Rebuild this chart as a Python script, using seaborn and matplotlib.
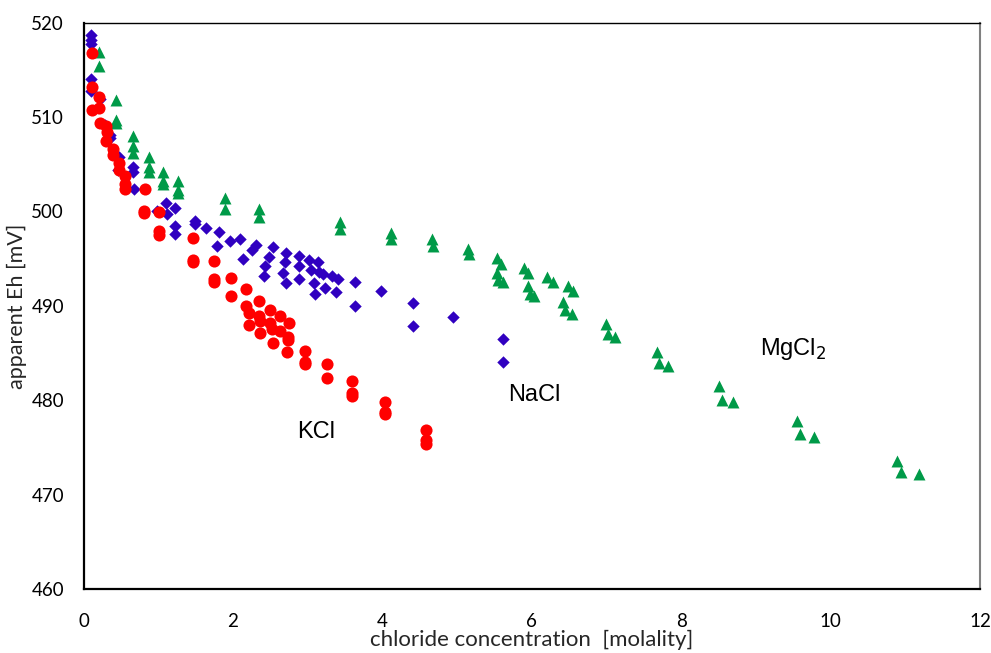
import numpy as np
import pandas as pd
import matplotlib
matplotlib.use("Agg")
import matplotlib.pyplot as plt
from matplotlib.ticker import MultipleLocator
import seaborn as sns

# Chloride molality and apparent Eh [mV] per salt
kcl_m = [0.11, 0.11, 0.11, 0.21, 0.21, 0.22, 0.30, 0.31, 0.30, 0.39, 0.39, 0.48, 0.48,
         0.56, 0.56, 0.56, 0.82, 0.81, 0.81, 1.01, 1.01, 1.01, 1.47, 1.47, 1.47, 1.75,
         1.75, 1.75, 1.98, 1.98, 2.17, 2.17, 2.21, 2.21, 2.35, 2.35, 2.36, 2.36, 2.50,
         2.50, 2.52, 2.53, 2.63, 2.63, 2.75, 2.74, 2.74, 2.73, 2.97, 2.97, 2.97, 3.26,
         3.26, 3.60, 3.60, 3.60, 4.04, 4.04, 4.04, 4.59, 4.59, 4.59]
kcl_eh = [516.8, 513.2, 510.75, 512.1, 511.0, 509.4, 509.1, 508.4, 507.5, 506.6, 506.0,
          505.1, 504.4, 503.8, 502.9, 502.4, 502.4, 500.1, 499.8, 499.9, 497.9, 497.5,
          497.2, 494.9, 494.6, 494.8, 492.8, 492.5, 493.0, 491.05, 491.8, 490.0, 489.2,
          488.0, 490.5, 488.9, 488.4, 487.1, 489.6, 488.2, 487.5, 486.1, 488.9, 487.3,
          488.2, 486.7, 486.4, 485.1, 485.2, 484.0, 483.8, 483.8, 482.4, 482.0, 480.8,
          480.5, 479.85, 478.8, 478.5, 476.85, 475.8, 475.4]

nacl_m = [0.10, 0.10, 0.10, 0.10, 0.10, 0.22, 0.29, 0.35, 0.36, 0.47, 0.46, 0.66, 0.66,
          0.67, 1.10, 1.22, 0.99, 1.12, 1.22, 1.22, 1.49, 1.49, 1.64, 1.81, 1.79, 1.96,
          2.09, 2.14, 2.25, 2.31, 2.43, 2.41, 2.48, 2.53, 2.71, 2.70, 2.67, 2.71, 2.88,
          2.89, 2.89, 3.02, 3.14, 3.05, 3.15, 3.20, 3.08, 3.10, 3.23, 3.33, 3.40, 3.38,
          3.63, 3.63, 3.98, 4.41, 4.41, 4.94, 5.61, 5.61]
nacl_eh = [518.7, 518.2, 517.7, 514.0, 512.8, 511.9, 509.2, 508.1, 507.8, 505.8, 504.4,
           504.7, 504.2, 502.4, 500.9, 500.4, 500.0, 499.7, 498.5, 497.6, 499.0, 498.7,
           498.2, 497.8, 496.3, 496.9, 497.1, 495.0, 495.9, 496.45, 494.2, 493.2, 495.2,
           496.2, 495.6, 494.7, 493.5, 492.4, 495.3, 494.2, 492.85, 494.9, 494.7, 493.8,
           493.6, 493.4, 492.4, 491.3, 491.9, 493.2, 492.8, 491.5, 492.5, 490.0, 491.6,
           490.3, 487.9, 488.8, 486.5, 484.0]

mgcl2_m = [0.21, 0.21, 0.44, 0.44, 0.44, 0.66, 0.66, 0.66, 0.87, 0.87, 0.87, 1.07, 1.07,
           1.07, 1.26, 1.26, 1.26, 1.90, 1.90, 2.35, 2.35, 3.43, 3.43, 4.11, 4.11, 4.66,
           4.68, 5.14, 5.16, 5.54, 5.59, 5.54, 5.55, 5.62, 5.90, 5.95, 5.95, 5.97, 6.03,
           6.20, 6.28, 6.49, 6.55, 6.42, 6.45, 6.54, 7.00, 7.02, 7.12, 7.68, 7.70, 7.83,
           8.51, 8.54, 8.69, 9.55, 9.59, 9.78, 10.89, 10.94, 11.19]
mgcl2_eh = [516.9, 515.4, 511.8, 509.7, 509.4, 508.0, 506.9, 506.2, 505.8, 504.7, 504.15,
            504.2, 503.2, 502.95, 503.2, 502.3, 502.0, 501.4, 500.3, 500.3, 499.4, 498.9,
            498.1, 497.7, 497.05, 497.05, 496.3, 496.05, 495.45, 495.05, 494.4, 493.5,
            492.75, 492.5, 494.05, 493.45, 492.1, 491.3, 491.0, 493.1, 492.55, 492.1,
            491.6, 490.45, 489.6, 489.1, 488.05, 487.0, 486.75, 485.15, 483.9, 483.6,
            481.55, 480.0, 479.8, 477.75, 476.4, 476.1, 473.6, 472.4, 472.2]

salts = ["MgCl2", "NaCl", "KCl"]
label_text = {"KCl": "KCl", "NaCl": "NaCl", "MgCl2": "MgCl$_2$"}
label_pos = {"KCl": (3.11, 476.6), "NaCl": (6.04, 480.6), "MgCl2": (9.5, 485.4)}

df = pd.concat([
    pd.DataFrame({"salt": "KCl", "molality": kcl_m, "eh": kcl_eh}),
    pd.DataFrame({"salt": "NaCl", "molality": nacl_m, "eh": nacl_eh}),
    pd.DataFrame({"salt": "MgCl2", "molality": mgcl2_m, "eh": mgcl2_eh}),
], ignore_index=True)

sns.set_style("white")
plt.rcParams["font.family"] = ["Lato", "DejaVu Sans"]

colors = {"KCl": "#ff0000", "NaCl": "#3000c0", "MgCl2": "#009a48"}
markers = {"KCl": "o", "NaCl": "D", "MgCl2": "^"}
sizes = {"KCl": 76, "NaCl": 40, "MgCl2": 74}

fig = plt.figure(figsize=(9.91, 6.53), dpi=100)
ax = fig.add_axes([0.0843, 0.098, 0.9046, 0.8672])

for salt in salts:
    sub = df[df["salt"] == salt]
    sns.scatterplot(data=sub, x="molality", y="eh", ax=ax, color=colors[salt],
                    marker=markers[salt], s=sizes[salt], linewidth=0, legend=False,
                    zorder=3)

for salt in salts:
    x, y = label_pos[salt]
    ax.text(x, y, label_text[salt], ha="center", va="center", fontsize=17,
            family=["Liberation Sans", "DejaVu Sans"], color="black")

ax.set_xlim(0, 12)
ax.set_ylim(460, 520)
ax.xaxis.set_major_locator(MultipleLocator(2))
ax.xaxis.set_minor_locator(MultipleLocator(0.5))
ax.yaxis.set_major_locator(MultipleLocator(10))
ax.yaxis.set_minor_locator(MultipleLocator(2))
ax.tick_params(axis="both", which="both", direction="out", length=4, width=1,
               color="black", labelsize=13.5, labelcolor="black")
ax.tick_params(axis="x", pad=13)
ax.tick_params(axis="y", pad=10)

ax.set_xlabel("chloride concentration  [molality]", fontsize=16, labelpad=0)
ax.set_ylabel("apparent Eh [mV]", fontsize=15.5, labelpad=3)

for side in ["left", "bottom"]:
    ax.spines[side].set_color("black")
    ax.spines[side].set_linewidth(1.6)
ax.spines["top"].set_color("black")
ax.spines["top"].set_linewidth(1.0)
ax.spines["right"].set_color("#808080")
ax.spines["right"].set_linewidth(1.5)

fig.savefig("out.png", dpi=100, facecolor="white")
